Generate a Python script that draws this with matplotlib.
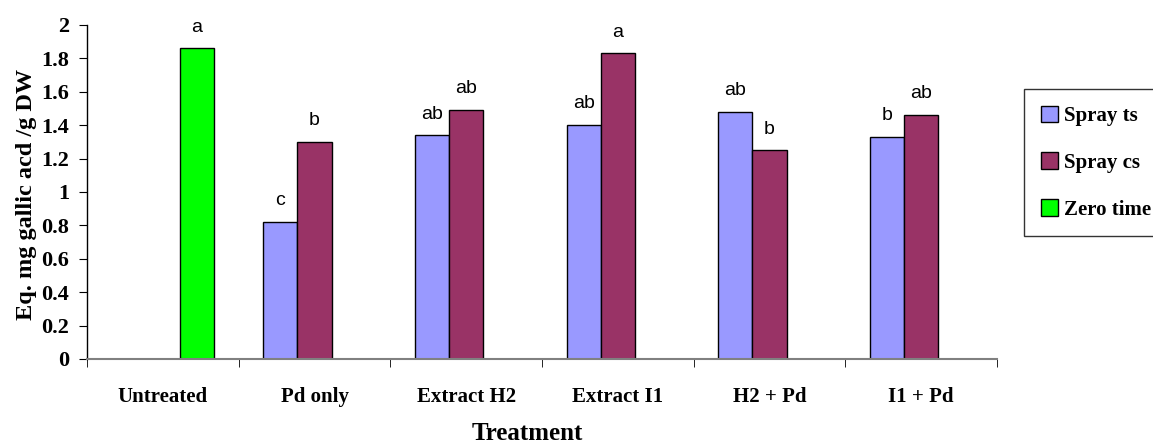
import numpy as np
import matplotlib.pyplot as plt

# Treatment groups and values
treatments = ['Untreated', 'Pd only', 'Extract H2', 'Extract I1', 'H2 + Pd', 'I1 + Pd']
spray_ts = [np.nan, 0.82, 1.34, 1.40, 1.48, 1.33]
spray_cs = [np.nan, 1.30, 1.49, 1.83, 1.25, 1.46]
zero_time = [1.86, np.nan, np.nan, np.nan, np.nan, np.nan]

letters_ts = ['', 'c', 'ab', 'ab', 'ab', 'b']
letters_cs = ['', 'b', 'ab', 'a', 'b', 'ab']
letters_zero = ['a', '', '', '', '', '']

serif = 'Liberation Serif'
sans = 'Liberation Sans'

fig = plt.figure(figsize=(11.53, 4.48), dpi=100)
ax = fig.add_axes([0.0755, 0.1987, 0.7892, 0.7455])

x = np.arange(len(treatments))
w = 0.225
series = [(spray_ts, '#9999FF', 'Spray ts', letters_ts),
          (spray_cs, '#993366', 'Spray cs', letters_cs),
          (zero_time, '#00FF00', 'Zero time', letters_zero)]

for i, (vals, col, lab, lets) in enumerate(series):
    pos = x + (i - 1) * w
    ax.bar(pos, vals, width=w, color=col, edgecolor='black', linewidth=1, label=lab)
    for p, v, t in zip(pos, vals, lets):
        if t:
            ax.text(p, v + 0.1, t, ha='center', va='baseline', fontsize=14, family=sans)

ax.set_xlim(-0.5, len(treatments) - 0.5)
ax.set_ylim(0, 2)
ax.set_yticks(np.arange(0, 2.01, 0.2))
ax.set_yticklabels(['0', '0.2', '0.4', '0.6', '0.8', '1', '1.2', '1.4', '1.6', '1.8', '2'],
                   fontsize=16, fontweight='bold', family=serif)
ax.set_xticks(x)
ax.set_xticklabels(treatments, fontsize=15, fontweight='bold', family=serif)
ax.set_xticks(np.arange(-0.5, len(treatments)), minor=True)
ax.tick_params(axis='x', which='major', length=0, pad=20)
ax.tick_params(axis='x', which='minor', length=6, direction='out', color='black')
ax.tick_params(axis='y', length=6, direction='out', pad=7)

ax.spines['top'].set_visible(False)
ax.spines['right'].set_visible(False)
ax.spines['left'].set_linewidth(1)
ax.spines['bottom'].set_color('#808080')
ax.spines['bottom'].set_linewidth(1.5)

ax.set_ylabel('Eq. mg gallic acd /g DW', fontsize=17.5, fontweight='bold', family=serif,
              va='center')
ax.yaxis.set_label_coords(-0.067, 0.494)
ax.set_xlabel('Treatment', fontsize=18, fontweight='bold', family=serif, va='top')
ax.xaxis.set_label_coords(0.4835, -0.19)

leg = ax.legend(loc='upper left', bbox_to_anchor=(1024 / 1153, 1 - 89 / 448),
                bbox_transform=fig.transFigure, prop={'family': serif, 'weight': 'bold', 'size': 15},
                handlelength=0.85, handleheight=0.85, handletextpad=0.25, labelspacing=1.26,
                borderpad=0.8, borderaxespad=0, fancybox=False, frameon=True)
leg.get_frame().set_edgecolor('black')
leg.get_frame().set_linewidth(1)

fig.savefig('out.png', dpi=100)
